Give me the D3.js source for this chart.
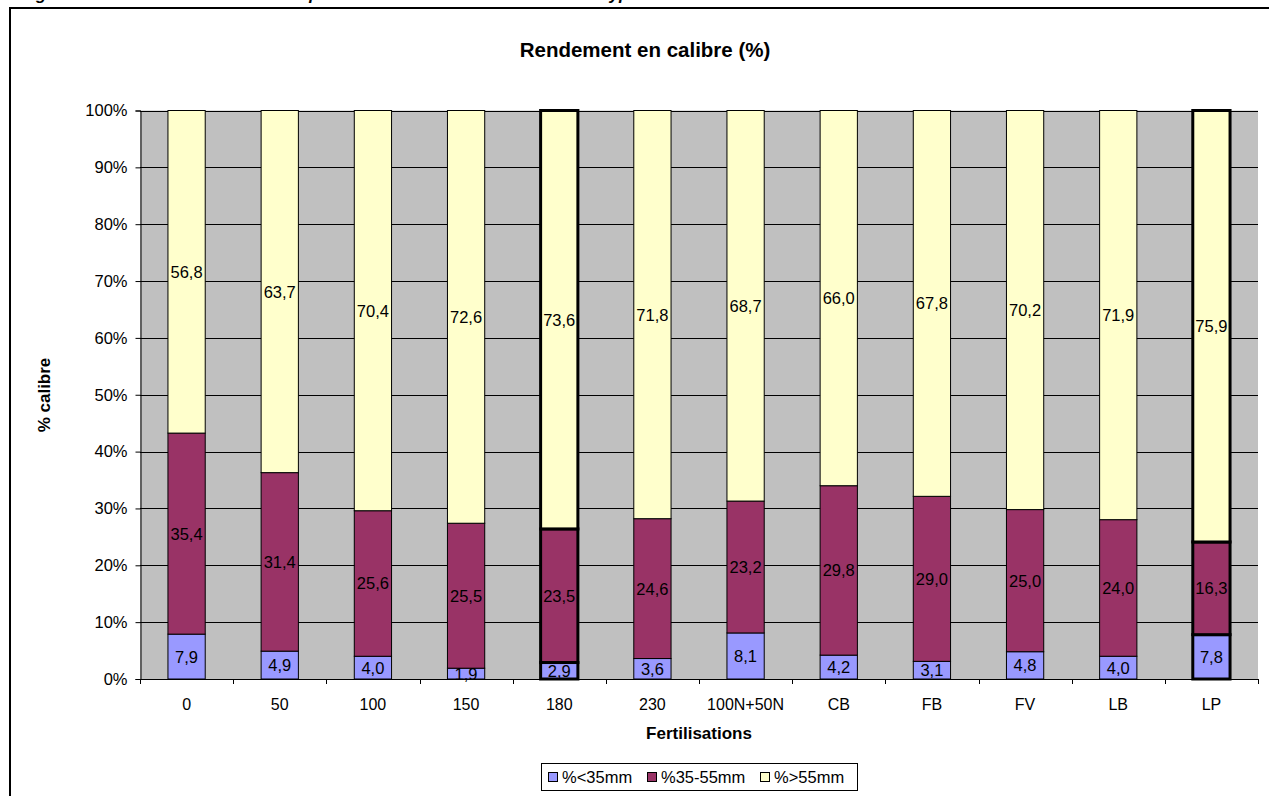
<!DOCTYPE html>
<html>
<head>
<meta charset="utf-8">
<script src="https://cdn.jsdelivr.net/npm/d3@7"></script>
<style>
  html, body { margin: 0; padding: 0; background: #fff; }
  svg { display: block; font-family: "Liberation Sans", Arial, sans-serif; }
</style>
</head>
<body>
<svg id="chart" width="1269" height="796"></svg>
<script>
// Fertilisation treatments
const categories = ["0", "50", "100", "150", "180", "230", "100N+50N", "CB", "FB", "FV", "LB", "LP"];
// Size-class shares (%) per treatment
const small  = [7.9, 4.9, 4.0, 1.9, 2.9, 3.6, 8.1, 4.2, 3.1, 4.8, 4.0, 7.8];
const medium = [35.4, 31.4, 25.6, 25.5, 23.5, 24.6, 23.2, 29.8, 29.0, 25.0, 24.0, 16.3];
const large  = [56.8, 63.7, 70.4, 72.6, 73.6, 71.8, 68.7, 66.0, 67.8, 70.2, 71.9, 75.9];
const seriesNames = ["%<35mm", "%35-55mm", "%>55mm"];
const seriesColors = ["#9999FF", "#993366", "#FFFFCC"];
const yTicks = [0, 0.1, 0.2, 0.3, 0.4, 0.5, 0.6, 0.7, 0.8, 0.9, 1.0];
// Treatments whose bars get a heavy outline
const highlighted = ["180", "LP"];

const svg = d3.select("#chart");

// Caption line above the chart frame (runs off the top of the page)
svg.append("text")
  .attr("x", 21).attr("y", 0.3)
  .attr("font-size", 17).attr("font-weight", "bold").attr("font-style", "italic")
  .text("Figure 3 : Rendement en calibre et quantité en fonction des doses et du type de fertilisation");

// Chart frame
svg.append("rect")
  .attr("x", 10).attr("y", 8).attr("width", 1290).attr("height", 820)
  .attr("fill", "#fff").attr("stroke", "#000").attr("stroke-width", 2);

const plot = { left: 140, right: 1258, top: 110.5, bottom: 679 };

const x = d3.scaleBand().domain(categories).range([plot.left, plot.right]).paddingInner(0.6).paddingOuter(0.3);
const xb = d3.scaleBand().domain(categories).range([plot.left, plot.right]);
const y = d3.scaleLinear().domain([0, 1]).range([plot.bottom, plot.top]);

// Plot background
svg.append("rect")
  .attr("x", plot.left).attr("y", plot.top)
  .attr("width", plot.right - plot.left).attr("height", plot.bottom - plot.top)
  .attr("fill", "#C0C0C0");

// Horizontal gridlines
svg.append("g").selectAll("line").data(yTicks.slice(1)).join("line")
  .attr("x1", plot.left).attr("x2", plot.right)
  .attr("y1", d => Math.round(y(d)) + 0.5).attr("y2", d => Math.round(y(d)) + 0.5)
  .attr("stroke", "#000").attr("stroke-width", 1);

// Stacked (100%) data
const rows = categories.map((c, i) => ({ cat: c, s0: small[i], s1: medium[i], s2: large[i] }));
const stack = d3.stack().keys(["s0", "s1", "s2"]).offset(d3.stackOffsetExpand);
const layers = stack(rows);

const gBars = svg.append("g");
layers.forEach((layer, li) => {
  gBars.append("g").selectAll("rect").data(layer).join("rect")
    .attr("x", d => x(d.data.cat))
    .attr("y", d => y(d[1]))
    .attr("width", x.bandwidth())
    .attr("height", d => y(d[0]) - y(d[1]))
    .attr("fill", seriesColors[li])
    .attr("stroke", "#000")
    .attr("stroke-width", d => highlighted.includes(d.data.cat) ? 3 : 1);
});

// Value labels centred in each segment
layers.forEach((layer, li) => {
  const vals = [small, medium, large][li];
  svg.append("g").selectAll("text").data(layer).join("text")
    .attr("x", d => x(d.data.cat) + x.bandwidth() / 2)
    .attr("y", d => (y(d[0]) + y(d[1])) / 2)
    .attr("dy", "0.36em")
    .attr("text-anchor", "middle")
    .attr("font-size", 16.5)
    .attr("fill", "#000")
    .text((d, i) => d3.format(".1f")(vals[i]).replace(".", ","));
});

// Y axis
const yAxis = d3.axisLeft(y).tickValues(yTicks).tickFormat(d3.format(".0%")).tickSize(5).tickPadding(8);
const gy = svg.append("g").attr("transform", `translate(${plot.left + 0.5},0)`).call(yAxis);
gy.select(".domain").attr("stroke", "#000");
gy.selectAll("line").attr("stroke", "#000");
gy.selectAll("text").attr("font-size", 16.5).attr("font-family", "Liberation Sans, Arial, sans-serif").attr("fill", "#000");

// X axis with ticks at category boundaries
svg.append("line")
  .attr("x1", plot.left).attr("x2", plot.right)
  .attr("y1", plot.bottom + 0.5).attr("y2", plot.bottom + 0.5)
  .attr("stroke", "#000");
const bounds = categories.map(c => xb(c)).concat([plot.right]);
svg.append("g").selectAll("line").data(bounds).join("line")
  .attr("x1", d => Math.round(d) + 0.5).attr("x2", d => Math.round(d) + 0.5)
  .attr("y1", plot.bottom).attr("y2", plot.bottom + 5)
  .attr("stroke", "#000");
svg.append("g").selectAll("text").data(categories).join("text")
  .attr("x", d => xb(d) + xb.bandwidth() / 2)
  .attr("y", plot.bottom + 31)
  .attr("text-anchor", "middle")
  .attr("font-size", 16)
  .text(d => d);

// Titles
svg.append("text")
  .attr("x", 645).attr("y", 57)
  .attr("text-anchor", "middle")
  .attr("font-size", 20.5).attr("font-weight", "bold")
  .text("Rendement en calibre (%)");

svg.append("text")
  .attr("x", 699).attr("y", 739)
  .attr("text-anchor", "middle")
  .attr("font-size", 17).attr("font-weight", "bold")
  .text("Fertilisations");

svg.append("text")
  .attr("transform", "translate(50,395) rotate(-90)")
  .attr("text-anchor", "middle")
  .attr("font-size", 17).attr("font-weight", "bold")
  .text("% calibre");

// Legend
const legend = svg.append("g");
legend.append("rect")
  .attr("x", 541.5).attr("y", 763.5).attr("width", 316).attr("height", 27)
  .attr("fill", "#fff").attr("stroke", "#000");
const legX = [548, 647, 760];
seriesNames.forEach((name, i) => {
  legend.append("rect")
    .attr("x", legX[i] + 0.5).attr("y", 772.5).attr("width", 9).attr("height", 9)
    .attr("fill", seriesColors[i]).attr("stroke", "#000");
  legend.append("text")
    .attr("x", legX[i] + 14).attr("y", 783)
    .attr("font-size", 16.5)
    .text(name);
});
</script>
</body>
</html>
